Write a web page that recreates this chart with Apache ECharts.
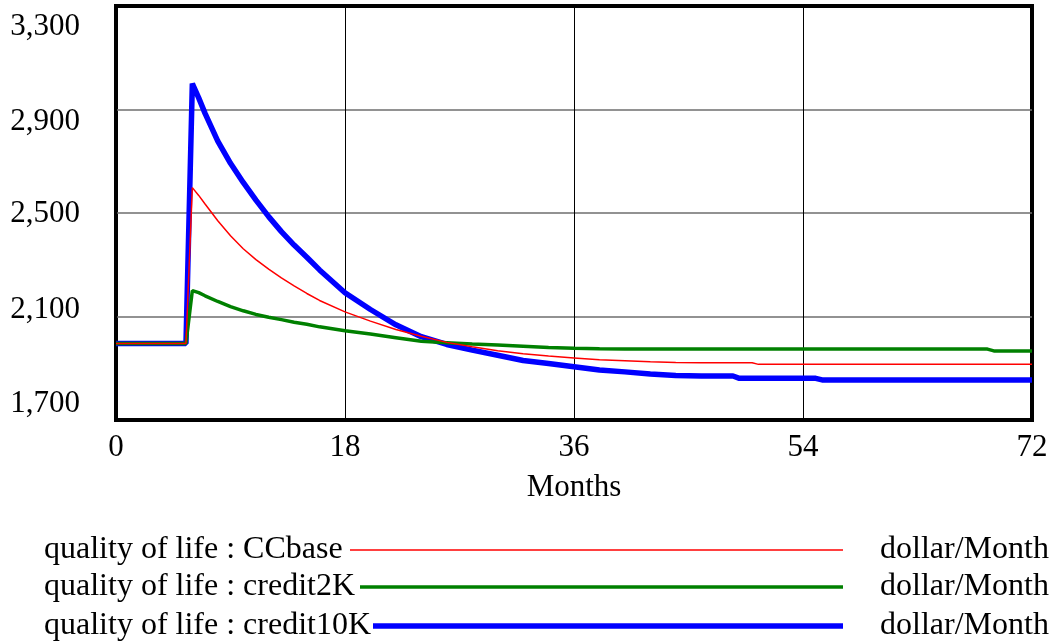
<!DOCTYPE html>
<html>
<head>
<meta charset="utf-8">
<title>quality of life</title>
<script src="https://cdn.jsdelivr.net/npm/echarts@6/dist/echarts.min.js"></script>
<style>
  html, body { margin: 0; padding: 0; background: #ffffff; }
  #chart { width: 1056px; height: 643px; }
</style>
</head>
<body>
<div id="chart"></div>
<script>
// Simulation time (months) shared by all three runs
var months = [0, 5.5, 6, 6.5, 7, 8, 9, 10, 11, 12, 13, 14, 15, 16, 18, 20, 22, 24, 26, 28, 30,
  32, 34, 36, 38, 40, 42, 44, 46, 48.5, 49, 50, 50.5, 52, 55, 55.5, 58, 62, 66, 68.5, 69, 72];

// quality of life, dollar/Month
var ccBase = [1996, 1996, 2598, 2568, 2535, 2470, 2412, 2362, 2320, 2283, 2249, 2218, 2189, 2162,
  2118, 2082, 2050, 2024, 2000, 1983, 1968, 1956, 1947, 1940, 1933, 1929, 1925, 1922, 1921,
  1921, 1921, 1921, 1915, 1915, 1915, 1915, 1915, 1915, 1915, 1915, 1915, 1915];
var credit2K = [1996, 1996, 2200, 2192, 2180, 2158, 2138, 2122, 2108, 2097, 2088, 2078, 2070, 2060,
  2045, 2032, 2018, 2004, 1999, 1994, 1990, 1985, 1980, 1977, 1975, 1974, 1974, 1974, 1974,
  1974, 1974, 1974, 1974, 1974, 1974, 1974, 1974, 1974, 1974, 1974, 1967, 1967];
var credit10K = [1996, 1996, 3000, 2945, 2885, 2778, 2692, 2618, 2550, 2486, 2428, 2376, 2329, 2280,
  2192, 2127, 2068, 2022, 1992, 1970, 1950, 1930, 1918, 1906, 1893, 1886, 1878, 1872, 1870,
  1870, 1861, 1861, 1861, 1861, 1861, 1855, 1855, 1855, 1855, 1855, 1855, 1855];

var seriesNames = ['quality of life : CCbase', 'quality of life : credit2K', 'quality of life : credit10K'];
var seriesColors = ['#ff0000', '#008000', '#0000ff'];
var seriesWidths = [1.5, 3.5, 5.5];
var unitLabel = 'dollar/Month';

var xTicks = [0, 18, 36, 54, 72];
var yTicks = [1700, 2100, 2500, 2900, 3300];

var FONT = '"Liberation Serif", "Times New Roman", serif';
var FS = 31;
var LEGEND_FS = 32;

function pairs(vals) {
  return months.map(function (m, i) { return [m, vals[i]]; });
}

// value labels sit slightly inside the grid lines, spread evenly
function richLabel(pad) {
  return { padding: pad, fontFamily: FONT, fontSize: FS, color: '#000' };
}
var yLabelRich = {
  l3300: richLabel([42, 0, 0, 0]),
  l2900: richLabel([24, 0, 0, 0]),
  l2500: richLabel([2, 0, 0, 0]),
  l2100: richLabel([0, 0, 14, 0]),
  l1700: richLabel([0, 0, 32, 0])
};

var chart = echarts.init(document.getElementById('chart'), null, { renderer: 'canvas' });

var legendRows = [550, 587, 626];
var legendLineStart = [350, 360, 373];
var graphics = [];
seriesNames.forEach(function (name, i) {
  graphics.push({
    type: 'text', left: 44, top: legendRows[i] - 16,
    style: { text: name, font: LEGEND_FS + 'px ' + FONT, fill: '#000' }
  });
  graphics.push({
    type: 'line',
    shape: { x1: legendLineStart[i], y1: legendRows[i], x2: 843, y2: legendRows[i] },
    style: { stroke: seriesColors[i], lineWidth: seriesWidths[i] }
  });
  graphics.push({
    type: 'text', left: 880, top: legendRows[i] - 16,
    style: { text: unitLabel, font: LEGEND_FS + 'px ' + FONT, fill: '#000' }
  });
});

chart.setOption({
  animation: false,
  backgroundColor: '#ffffff',
  grid: {
    left: 116, right: 24, top: 6, bottom: 223,
    show: true, borderColor: '#000', borderWidth: 4, backgroundColor: 'transparent'
  },
  xAxis: {
    type: 'value', min: 0, max: 72, interval: 18,
    name: 'Months', nameLocation: 'middle', nameGap: 52,
    nameTextStyle: { fontFamily: FONT, fontSize: FS, color: '#000' },
    axisLine: { show: false },
    axisTick: { show: false },
    axisLabel: {
      margin: 12, fontFamily: FONT, fontSize: FS, color: '#000',
      formatter: function (v) { return xTicks.indexOf(v) >= 0 ? String(v) : ''; }
    },
    splitLine: { show: true, lineStyle: { color: '#000', width: 1 } }
  },
  yAxis: {
    type: 'value', min: 1700, max: 3300, interval: 400,
    axisLine: { show: false },
    axisTick: { show: false },
    axisLabel: {
      margin: 36, fontFamily: FONT, fontSize: FS, color: '#000',
      formatter: function (v) {
        if (yTicks.indexOf(v) < 0) return '';
        return '{l' + v + '|' + v.toLocaleString('en-US') + '}';
      },
      rich: yLabelRich
    },
    splitLine: { show: true, lineStyle: { color: ['#000', '#6e6e6e', '#6e6e6e', '#6e6e6e', '#000'], width: 1.5 } }
  },
  series: [
    { name: seriesNames[2], type: 'line', data: pairs(credit10K), showSymbol: false, z: 3,
      lineStyle: { color: seriesColors[2], width: seriesWidths[2] }, itemStyle: { color: seriesColors[2] } },
    { name: seriesNames[1], type: 'line', data: pairs(credit2K), showSymbol: false, z: 4,
      lineStyle: { color: seriesColors[1], width: seriesWidths[1] }, itemStyle: { color: seriesColors[1] } },
    { name: seriesNames[0], type: 'line', data: pairs(ccBase), showSymbol: false, z: 5,
      lineStyle: { color: seriesColors[0], width: seriesWidths[0] }, itemStyle: { color: seriesColors[0] } }
  ],
  graphic: graphics
});
</script>
</body>
</html>
